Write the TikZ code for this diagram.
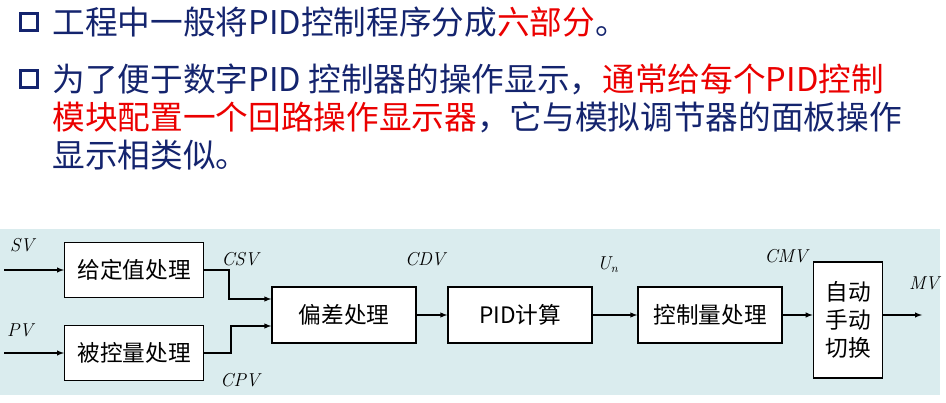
\documentclass[tikz,border=0pt]{standalone}
\usepackage{fontspec}
\newfontfamily\cjk{Noto Sans CJK SC}
\usetikzlibrary{positioning}
\definecolor{navy}{RGB}{20,36,110}
\definecolor{panel}{RGB}{218,236,238}
\definecolor{hot}{RGB}{235,0,0}
\begin{document}
\begin{tikzpicture}[x=0.75pt,y=-0.75pt,thick,>=latex,
    blk/.style={draw,fill=white,line width=1pt,inner sep=0pt,font=\cjk\fontsize{17}{21}\selectfont,align=center},
    sig/.style={font=\itshape\fontsize{14}{16}\selectfont},
    line/.style={anchor=west,inner sep=0pt,text=navy,font=\cjk\fontsize{24.5}{28}\selectfont},
    bullet/.style={draw=navy,line width=2pt,minimum size=13pt,inner sep=0pt}]
\useasboundingbox (0,0) rectangle (946,403);
\fill[panel] (0,229) rectangle (940,395);

% text
\node[bullet] (b1) at (29,22) {};
\node[line] (t1) at (52,22) {工程中一般将PID控制程序分成\textcolor{hot}{六部分}。};
\node[bullet] (b2) at (29,79) {};
\node[line] (t2) at (52,79) {为了便于数字PID 控制器的操作显示，\textcolor{hot}{通常给每个PID控制}};
\node[line] (t3) at (52,117) {\textcolor{hot}{模块配置一个回路操作显示器}，它与模拟调节器的面板操作};
\node[line] (t4) at (52,155) {显示相类似。};

% blocks
\node[blk,minimum width=104pt,minimum height=41pt] (setp) at (134,270) {给定值处理};
\node[blk,minimum width=104pt,minimum height=41pt] (meas) at (134,353) {被控量处理};
\node[blk,minimum width=108pt,minimum height=42pt] (dev) at (344,315) {偏差处理};
\node[blk,minimum width=108pt,minimum height=42pt] (pid) at (520,315) {PID计算};
\node[blk,minimum width=108pt,minimum height=42pt] (ctrl) at (710,315) {控制量处理};
\node[blk,minimum width=52pt,minimum height=87pt] (man) at (848,320) {自动\\手动\\切换};

\coordinate (svin) at (4,270);
\coordinate (pvin) at (4,353);
\coordinate (mvout) at (922,315);

% signals
\draw[->] (svin) -- (setp);
\draw[->] (pvin) -- (meas);
\draw[->] (setp.east) -| (229,299) -- (dev.west |- 0,299);
\draw[->] (meas.east) -| (231,326) -- (dev.west |- 0,326);
\draw[->] (dev) -- (pid);
\draw[->] (pid) -- (ctrl);
\draw[->] (ctrl.east) -- (man.west |- ctrl.east);
\draw[->] (man.east |- ctrl.east) -- (mvout);

% labels
\node[sig] (sv) at (22,245) {SV};
\node[sig] (pv) at (20,330) {PV};
\node[sig] (csv) at (240,259) {CSV};
\node[sig] (cpv) at (240,380) {CPV};
\node[sig] (cdv) at (425,259) {CDV};
\node[sig] (un) at (608,265) {U\textsubscript{\fontsize{9}{10}\selectfont n}};
\node[sig] (cmv) at (786,256) {CMV};
\node[sig] (mv) at (924,283) {MV};
\end{tikzpicture}
\end{document}
